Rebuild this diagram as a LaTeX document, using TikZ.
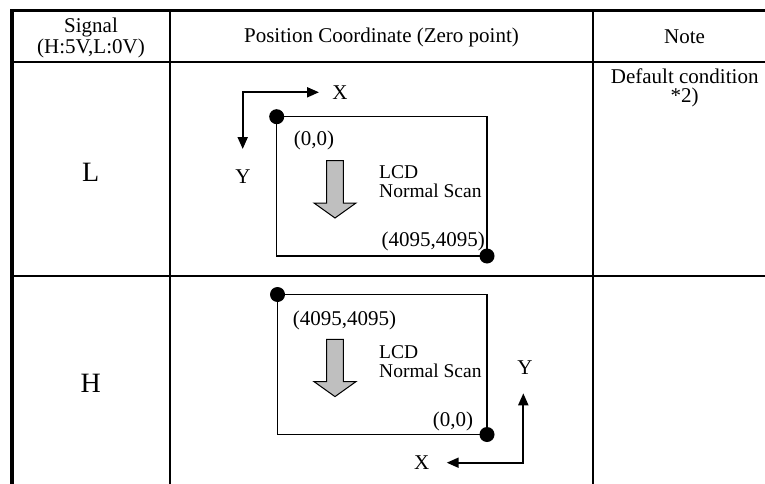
\documentclass[tikz,border=0pt]{standalone}
\usepackage{fontspec}
\setmainfont{Liberation Serif}
\usetikzlibrary{arrows.meta,calc}
\def\scanarrow(#1){\draw[fill=black!25,line width=1pt,shift={(#1)}] (-8.3,0) -- (-8.3,42.3) -- (-21,42.3) -- (0,57.3) -- (21,42.3) -- (8.3,42.3) -- (8.3,0) -- cycle;}
\tikzset{
	cell/.style={font=\fontsize{21}{19}\selectfont, inner sep=0pt},
	scantext/.style={font=\fontsize{19.5}{19}\selectfont, inner sep=0pt, align=left, anchor=west},
	signal/.style={font=\fontsize{28}{28}\selectfont, inner sep=0pt},
	panel/.style={line width=1.2pt},
	axis/.style={line width=2pt, {Triangle[length=12pt,width=10pt]}-{Triangle[length=12pt,width=10pt]}}
}
\begin{document}
\begin{tikzpicture}[x=1pt,y=-1pt]
				\useasboundingbox (0,0) rectangle (765,484);
				
				\draw[line width=3pt] (12,11) -- (765,11);
				\draw[line width=2.5pt] (12,62) -- (765,62);
				\draw[line width=2.5pt] (12,276) -- (765,276);
				\draw[line width=2pt] (169.5,11) -- (169.5,484);
				\draw[line width=2pt] (593,11) -- (593,484);
				\draw[line width=4pt] (12,9.5) -- (12,484);
				
				\node[cell, align=center] (sighead) at (91,38) {Signal\\(H:5V,L:0V)};
				\node[cell] (poshead) at (381.5,37) {Position Coordinate (Zero point)};
				\node[cell] (notehead) at (684.5,37) {Note};
				\node[cell, align=center, anchor=north] (noteL) at (684.7,69) {Default condition\\*2)};
				\node[signal] (sigL) at (90.7,172) {L};
				\node[signal] (sigH) at (90.7,383) {H};
				
				\coordinate (originL) at (276.7,116.7);
				\coordinate (maxL) at (487,256);
				\draw[panel] (originL) rectangle (maxL);
				\fill (originL) circle (7.5pt);
				\fill (maxL) circle (7.5pt);
				\node[cell] (zeroL) at (314,140) {(0,0)};
				\node[cell, anchor=east] (maxlblL) at (485,241.5) {(4095,4095)};
				\scanarrow(335,160.7)
				\node[scantext] (scanL) at (379,182) {LCD\\Normal Scan};
				\coordinate (axL) at (242.7,92.3);
				\coordinate (xtipL) at (319,92.3);
				\coordinate (ytipL) at (242.7,149);
				\draw[axis] (ytipL) -- (axL) -- (xtipL);
				\node[cell] (xL) at (340,92.3) {X};
				\node[cell] (yL) at (243,177) {Y};
				
				\coordinate (maxH) at (277.5,294.5);
				\coordinate (originH) at (487,434.5);
				\draw[panel] (maxH) rectangle (originH);
				\fill (maxH) circle (7.5pt);
				\fill (originH) circle (7.5pt);
				\node[cell, anchor=west] (maxlblH) at (292.7,320) {(4095,4095)};
				\scanarrow(335,339.3)
				\node[scantext] (scanH) at (379,361.5) {LCD\\Normal Scan};
				\node[cell] (zeroH) at (453,421.5) {(0,0)};
				\coordinate (axH) at (523.3,462.7);
				\coordinate (ytipH) at (523.3,393.3);
				\coordinate (xtipH) at (446.7,462.7);
				\draw[axis] (ytipH) -- (axH) -- (xtipH);
				\node[cell] (xH) at (421.7,462.7) {X};
				\node[cell] (yH) at (525,368) {Y};
			\end{tikzpicture}
\end{document}
